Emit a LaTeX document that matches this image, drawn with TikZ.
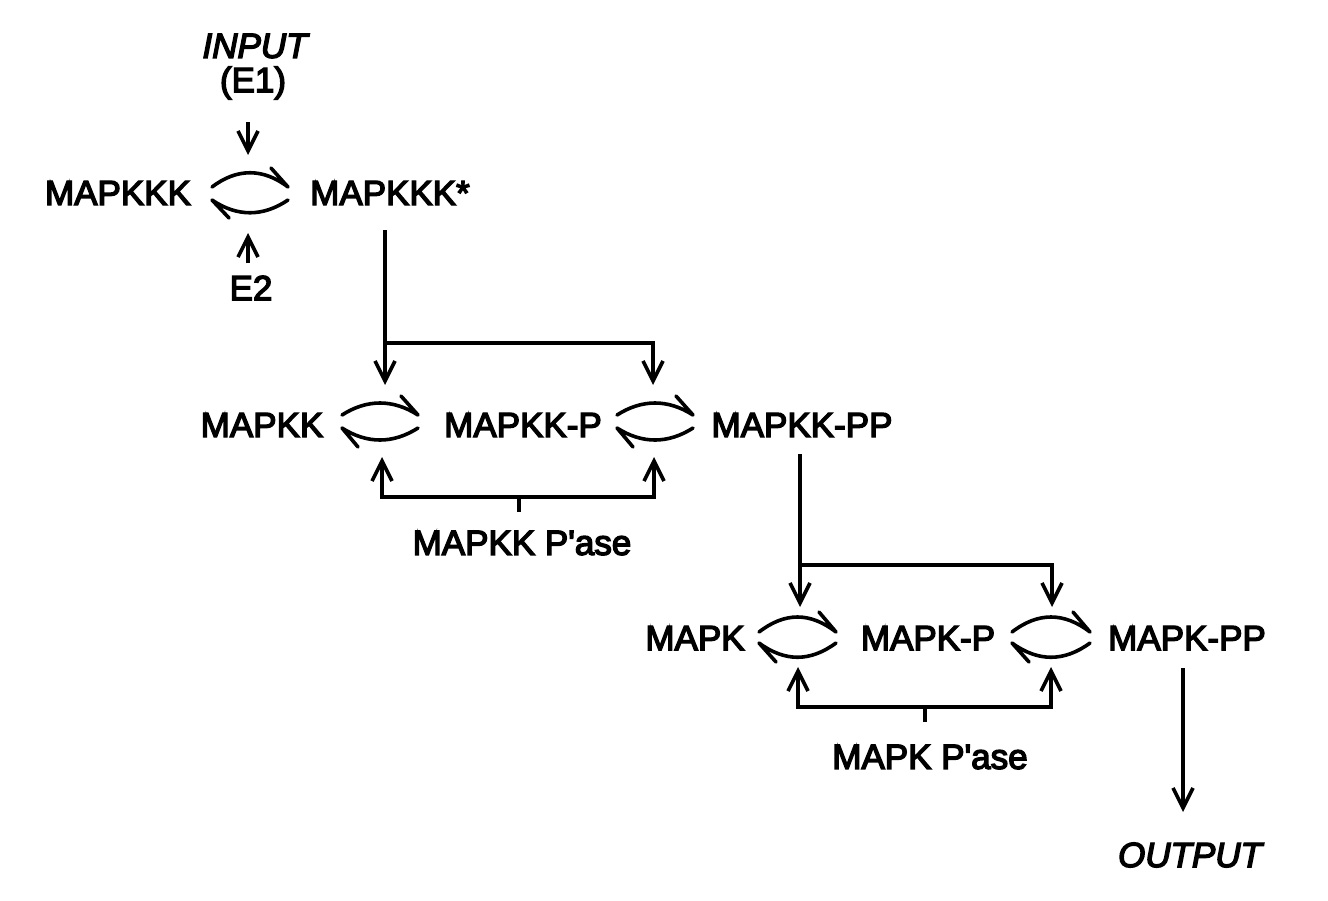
\documentclass[tikz,border=0pt]{standalone}
\usepackage{fontspec}
\setmainfont{Liberation Sans}[FakeBold=4, Ligatures=TeXOff]
\usetikzlibrary{arrows.meta}
\begin{document}
\begin{tikzpicture}[x=0.5pt,y=-0.5pt,
  font=\fontsize{17.5}{20}\selectfont,
  lbl/.style={inner sep=0pt, anchor=center},
  ln/.style={line width=1.6pt},
  arr/.style={line width=1.6pt, -{Straight Barb[length=10pt,width=10pt,line width=1.8pt]}},
  harp/.style={line width=1.8pt, line join=round, line cap=round}]
\useasboundingbox (0,0) rectangle (1328,900);
% row 1
\node[lbl] (input) at (255,46) {\itshape INPUT};
\node[lbl] (e1) at (253,83) {(E1)};
\node[lbl] (mkkk) at (118,193) {MAPKKK};
\node[lbl] (mkkks) at (390,193) {MAPKKK*};
\node[lbl] (e2) at (251,288) {E2};
\coordinate (e1s) at (248,122); \coordinate (e1t) at (248,155);
\coordinate (e2s) at (248,263); \coordinate (e2t) at (248,233);
\draw[arr] (e1s) -- (e1t);
\draw[arr] (e2s) -- (e2t);
\coordinate (c0ul) at (212,187); \coordinate (c0ur) at (288,187); \coordinate (c0ub) at (271,168);
\coordinate (c0ll) at (212,200); \coordinate (c0lr) at (288,200); \coordinate (c0lb) at (229,218);
\draw[harp] (c0ul) .. controls (237,168) and (263,168) .. (c0ur) -- (c0ub);
\draw[harp] (c0lr) .. controls (263,217) and (237,217) .. (c0ll) -- (c0lb);
% MAPKKK* to row 2
\coordinate (v1s) at (385,230); \coordinate (v1j) at (385,343);
\coordinate (v1t) at (385,385); \coordinate (v1k) at (653,343);
\coordinate (v1u) at (653,385);
\draw[arr] (v1s) -- (v1t);
\draw[arr] (v1j) -- (v1k) -- (v1u);
% row 2
\node[lbl] (mkk) at (262,425) {MAPKK};
\node[lbl] (mkkp) at (523,425) {MAPKK-P};
\node[lbl] (mkkpp) at (802,425) {MAPKK-PP};
\coordinate (c1ul) at (342,415); \coordinate (c1ur) at (418,415); \coordinate (c1ub) at (401,396);
\coordinate (c1ll) at (342,428); \coordinate (c1lr) at (418,428); \coordinate (c1lb) at (358,447);
\draw[harp] (c1ul) .. controls (367,399) and (393,399) .. (c1ur) -- (c1ub);
\draw[harp] (c1lr) .. controls (393,444) and (367,444) .. (c1ll) -- (c1lb);
\coordinate (c2ul) at (617,415); \coordinate (c2ur) at (693,415); \coordinate (c2ub) at (676,396);
\coordinate (c2ll) at (617,428); \coordinate (c2lr) at (693,428); \coordinate (c2lb) at (633,447);
\draw[harp] (c2ul) .. controls (642,399) and (668,399) .. (c2ur) -- (c2ub);
\draw[harp] (c2lr) .. controls (668,444) and (642,444) .. (c2ll) -- (c2lb);
% MAPKK P'ase
\node[lbl] (pase1) at (522,543) {MAPKK P'ase};
\coordinate (p1t) at (519,512); \coordinate (p1m) at (519,497);
\coordinate (p1l) at (382,497); \coordinate (p1r) at (654,497);
\coordinate (p1la) at (382,457); \coordinate (p1ra) at (654,457);
\draw[ln] (p1t) -- (p1m);
\draw[arr] (p1m) -- (p1l) -- (p1la);
\draw[arr] (p1m) -- (p1r) -- (p1ra);
% MAPKK-PP to row 3
\coordinate (v2s) at (800,454); \coordinate (v2j) at (800,565);
\coordinate (v2t) at (800,607); \coordinate (v2k) at (1052,565);
\coordinate (v2u) at (1052,607);
\draw[arr] (v2s) -- (v2t);
\draw[arr] (v2j) -- (v2k) -- (v2u);
% row 3
\node[lbl] (mk) at (695,638) {MAPK};
\node[lbl] (mkp) at (928,638) {MAPK-P};
\node[lbl] (mkpp) at (1187,638) {MAPK-PP};
\coordinate (c3ul) at (759,632); \coordinate (c3ur) at (836,632); \coordinate (c3ub) at (819,612);
\coordinate (c3ll) at (759,643); \coordinate (c3lr) at (836,643); \coordinate (c3lb) at (776,662);
\draw[harp] (c3ul) .. controls (785,612) and (810,612) .. (c3ur) -- (c3ub);
\draw[harp] (c3lr) .. controls (810,662) and (785,662) .. (c3ll) -- (c3lb);
\coordinate (c4ul) at (1012,632); \coordinate (c4ur) at (1090,632); \coordinate (c4ub) at (1073,612);
\coordinate (c4ll) at (1012,643); \coordinate (c4lr) at (1090,643); \coordinate (c4lb) at (1029,662);
\draw[harp] (c4ul) .. controls (1038,612) and (1064,612) .. (c4ur) -- (c4ub);
\draw[harp] (c4lr) .. controls (1064,662) and (1038,662) .. (c4ll) -- (c4lb);
% MAPK P'ase
\node[lbl] (pase2) at (930,757) {MAPK P'ase};
\coordinate (p2t) at (925,722); \coordinate (p2m) at (925,707);
\coordinate (p2l) at (798,707); \coordinate (p2r) at (1051,707);
\coordinate (p2la) at (798,667); \coordinate (p2ra) at (1051,667);
\draw[ln] (p2t) -- (p2m);
\draw[arr] (p2m) -- (p2l) -- (p2la);
\draw[arr] (p2m) -- (p2r) -- (p2ra);
% output
\node[lbl] (output) at (1190,855) {\itshape OUTPUT};
\coordinate (os) at (1183,668); \coordinate (ot) at (1183,812);
\draw[arr] (os) -- (ot);
\end{tikzpicture}
\end{document}
